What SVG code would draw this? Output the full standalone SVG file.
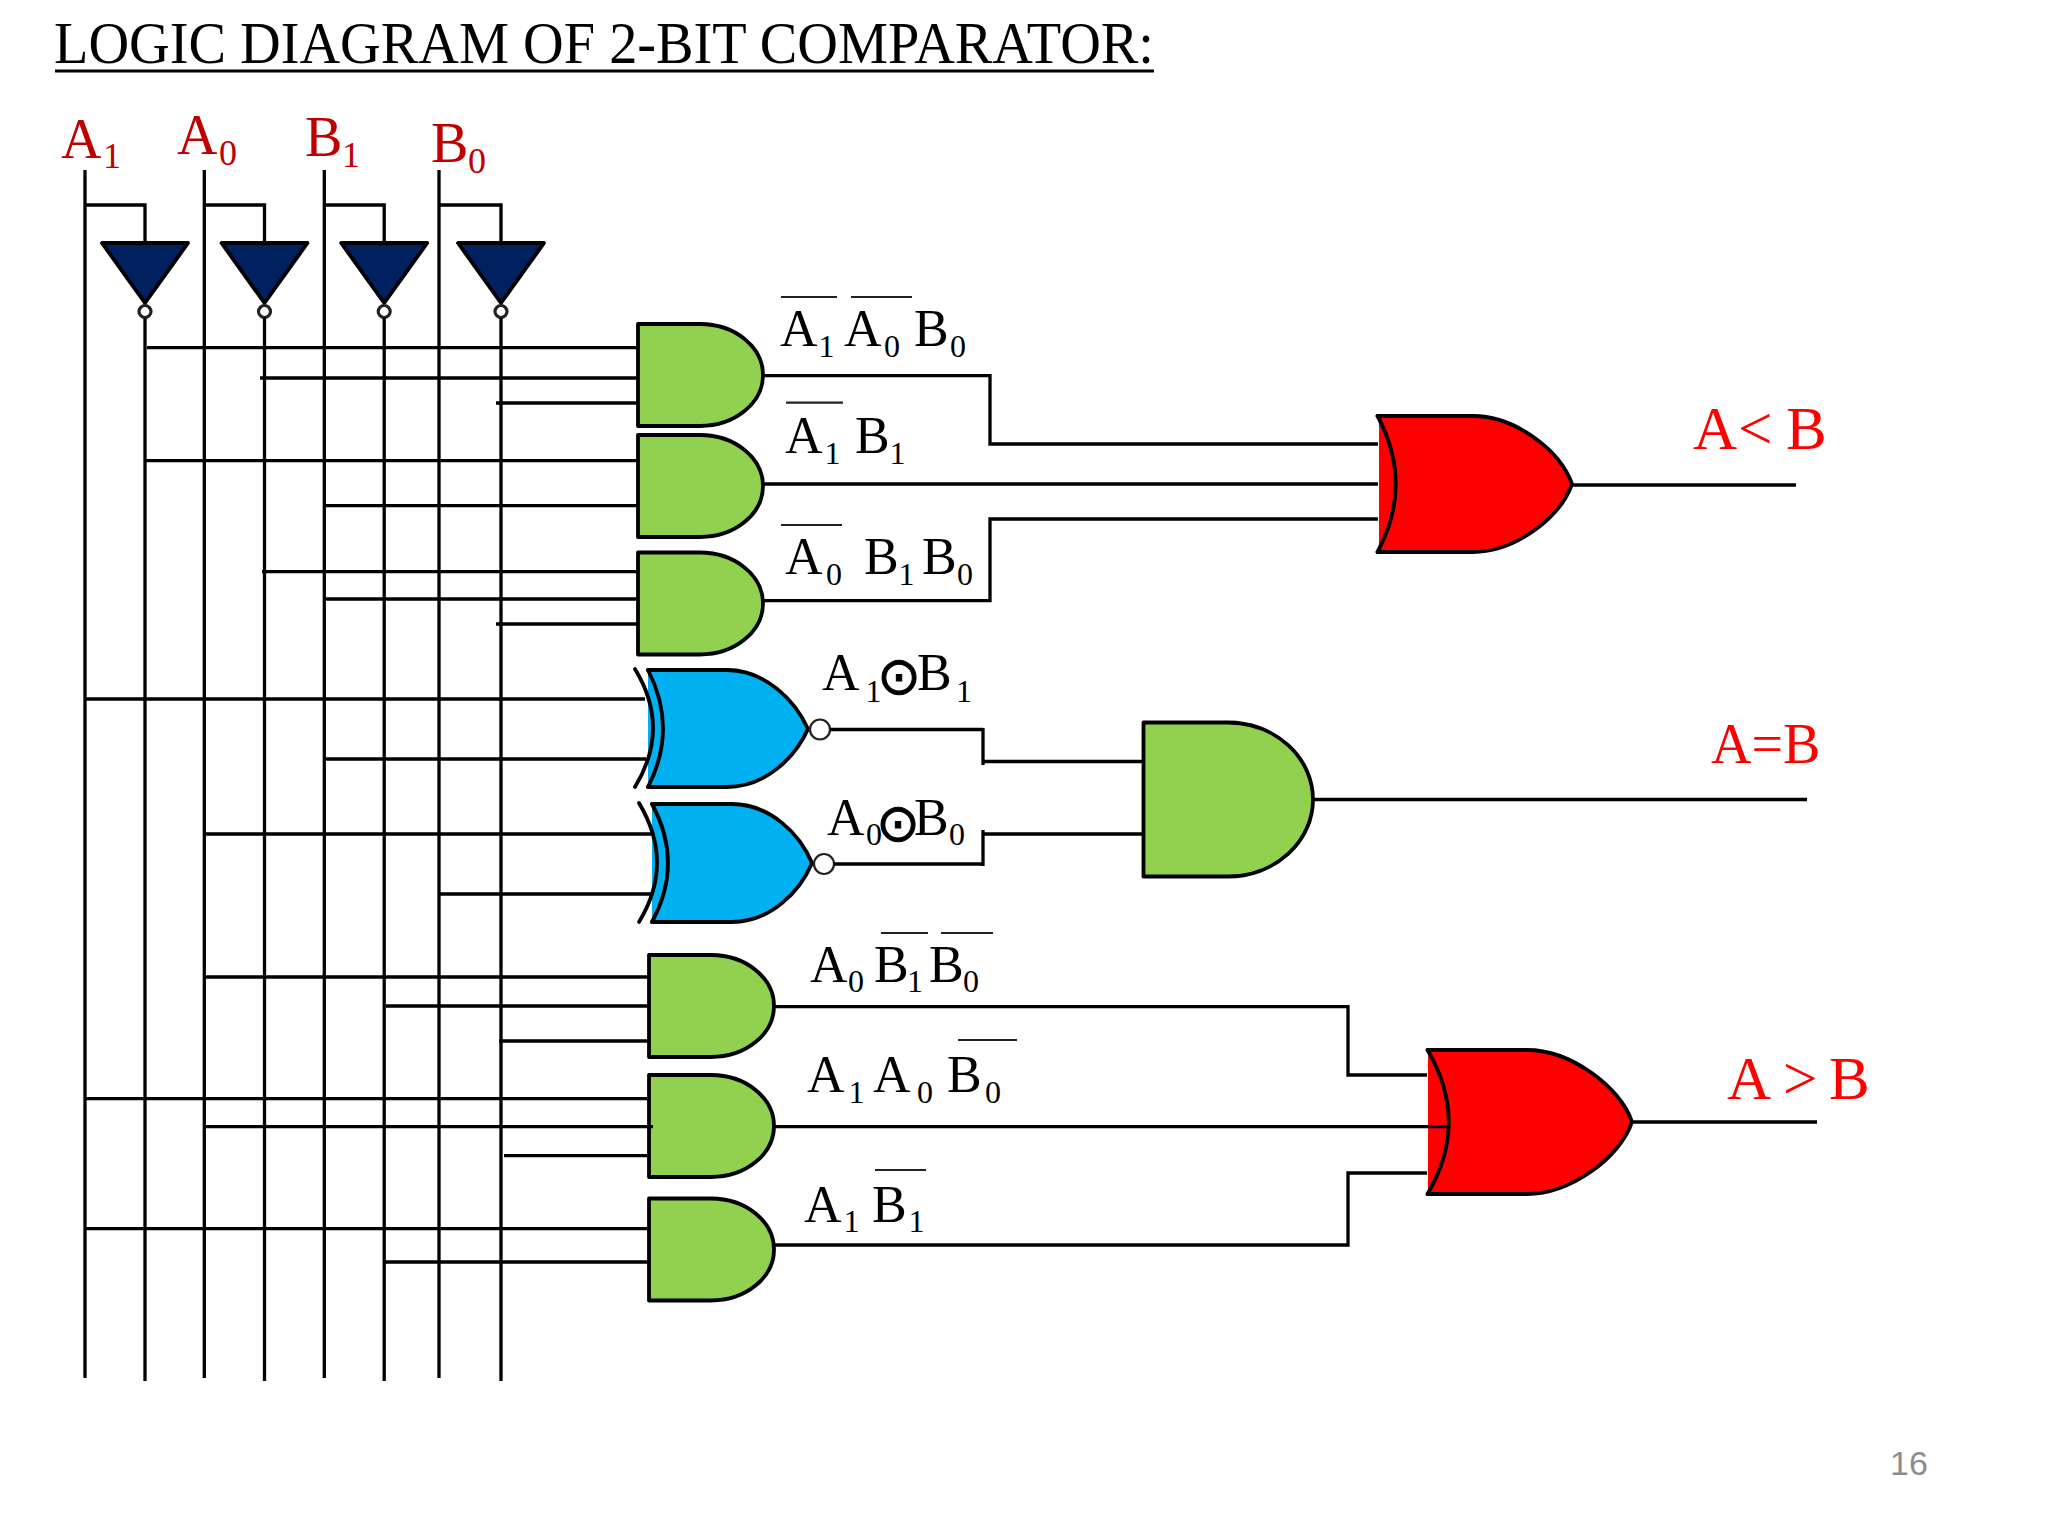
<svg xmlns="http://www.w3.org/2000/svg" width="2048" height="1536" viewBox="0 0 2048 1536">
<defs>
<style>
text{font-family:"Liberation Serif","Times New Roman",serif}
.w{fill:none;stroke:#000;stroke-width:3.300}
.g{stroke:#000;stroke-width:3.800;stroke-linejoin:round}
.and{fill:#92D050}
.inv{fill:#002060;stroke:#000;stroke-width:3.800;stroke-linejoin:round}
.bub{fill:#fff;stroke:#222;stroke-width:3.200}
.bub2{fill:#fff;stroke:#222;stroke-width:2.200}
.nf{fill:none;stroke:#000;stroke-width:3.800;stroke-linecap:round;stroke-linejoin:round}
.l{font-size:52px;fill:#000}
.s{font-size:32px;fill:#000}
.r{fill:#C00000}
.red{fill:#FF0000}
.bar{stroke:#222;stroke-width:2.200}
.odot{font-family:"DejaVu Sans",sans-serif;font-size:52px;fill:#000;stroke:#000;stroke-width:1;text-anchor:middle}
</style>
<path id="andS" d="M0 0H62A63 51 0 0 1 62 102H0Z"/>
</defs>
<rect width="2048" height="1536" fill="#fff"/>

<g id="title">
<text x="54" y="63" font-size="59" textLength="1100" lengthAdjust="spacingAndGlyphs" fill="#000">LOGIC DIAGRAM OF 2-BIT COMPARATOR:</text>
<line x1="55" y1="71" x2="1154" y2="71" stroke="#000" stroke-width="3"/>
</g>

<g id="inputs">
<text x="61" y="158" font-size="56" class="r">A<tspan x="103" y="168" font-size="36">1</tspan></text>
<text x="177" y="154" font-size="56" class="r">A<tspan x="219" y="165" font-size="36">0</tspan></text>
<text x="305" y="156" font-size="56" class="r">B<tspan x="342" y="167" font-size="36">1</tspan></text>
<text x="431" y="162" font-size="56" class="r">B<tspan x="468" y="173" font-size="36">0</tspan></text>
</g>

<g id="inv-a1"><path class="inv" transform="translate(145 243)" d="M-43 0H43L0 60Z"/><circle class="bub" cx="145" cy="311.500" r="6"/></g>
<g id="inv-a0"><path class="inv" transform="translate(264.500 243)" d="M-43 0H43L0 60Z"/><circle class="bub" cx="264.500" cy="311.500" r="6"/></g>
<g id="inv-b1"><path class="inv" transform="translate(384.200 243)" d="M-43 0H43L0 60Z"/><circle class="bub" cx="384.200" cy="311.500" r="6"/></g>
<g id="inv-b0"><path class="inv" transform="translate(501 243)" d="M-43 0H43L0 60Z"/><circle class="bub" cx="501" cy="311.500" r="6"/></g>

<g id="and1"><use href="#andS" class="and g" x="638" y="324"/></g>
<g id="and2"><use href="#andS" class="and g" x="638" y="435"/></g>
<g id="and3"><use href="#andS" class="and g" x="638" y="552.500"/></g>
<g id="and4"><use href="#andS" class="and g" x="649" y="955"/></g>
<g id="and5"><use href="#andS" class="and g" x="649" y="1075"/></g>
<g id="and6"><use href="#andS" class="and g" x="649" y="1198.500"/></g>
<g id="and7"><path class="and g" d="M1143.500 722.500H1228A85 77 0 0 1 1228 876.500H1143.500Z"/></g>

<g id="xnor1">
<path fill="#00B0F0" d="M648 670H727C765 670 795 700 808 729C795 758 765 787 727 787H648Z"/>
<path class="nf" d="M648 670H727C765 670 795 700 808 729C795 758 765 787 727 787H648"/>
<path class="nf" d="M648 670Q678 728.500 648 787"/>
<path class="nf" d="M635 669Q671 728 635 787"/>
<circle class="bub2" cx="820" cy="729.500" r="10"/>
</g>
<g id="xnor2">
<path fill="#00B0F0" d="M652 804H732C770 804 800 834 812 863C800 892 770 922 732 922H652Z"/>
<path class="nf" d="M652 804H732C770 804 800 834 812 863C800 892 770 922 732 922H652"/>
<path class="nf" d="M652 804Q684 863 652 922"/>
<path class="nf" d="M639 803Q675 863 639 922"/>
<circle class="bub2" cx="824" cy="864" r="10"/>
</g>
<g id="or1">
<path fill="#FF0000" d="M1379 416H1473C1515 416 1560 450 1572 484C1560 518 1515 552 1473 552H1379Z"/>
<path class="nf" d="M1377.500 416H1473C1515 416 1560 450 1572 484C1560 518 1515 552 1473 552H1377.500"/>
<path class="nf" d="M1377.500 416Q1414 484 1377.500 552"/>
</g>
<g id="or2">
<path fill="#FF0000" d="M1428 1050H1527C1570 1050 1620 1086 1632 1122C1620 1158 1570 1194 1527 1194H1428Z"/>
<path class="nf" d="M1427.500 1050H1527C1570 1050 1620 1086 1632 1122C1620 1158 1570 1194 1527 1194H1427.500"/>
<path class="nf" d="M1427.500 1050Q1470 1122 1427.500 1194"/>
</g>

<g id="connectors" class="w">
<path d="M85 170V1378M204.300 170V1378M324.300 170V1378M439 170V1378"/>
<path d="M145 318V1381M264.500 318V1381M384.200 318V1381M501 318V1381"/>
<path d="M84 205H145V243M204 205H264.500V243M323 205H384.200V243M439 205H501V243"/>
<path d="M147 347.700H638M260 378H638M496 403H638"/>
<path d="M145 460.700H638M324 505.700H638"/>
<path d="M262 571.700H638M324 599H638M496 624H638"/>
<path d="M85 699H645M324 759H646M204 834H652M439 894H652"/>
<path d="M204 977H649M386 1006H649M499 1041H650"/>
<path d="M85 1098.700H649M204 1126.700H653M504 1155.700H649"/>
<path d="M85 1228.700H649M385 1262H649"/>
<path d="M763 375.700H990V444H1378M763 484H1378M763 600.700H990V519H1378M1572 485H1796"/>
<path d="M830 729.500H983M983 728V765M983 761.500H1143"/>
<path d="M834 864H983M983 830V866M983 834H1143"/>
<path d="M1313 799.500H1807"/>
<path d="M774 1006.700H1348V1075H1427M774 1126.700H1447M774 1245H1348V1173H1427M1632 1122H1817"/>
</g>

<g id="labels">
<line class="bar" x1="781" y1="297" x2="837" y2="297"/><line class="bar" x1="851" y1="297" x2="912" y2="297"/>
<text class="l" x="780" y="346">A<tspan class="s" x="818.500" y="357">1</tspan><tspan x="844" y="346">A</tspan><tspan class="s" x="884" y="357">0</tspan><tspan x="914" y="346">B</tspan><tspan class="s" x="950" y="357">0</tspan></text>
<line class="bar" x1="786" y1="402.700" x2="843" y2="402.700"/>
<text class="l" x="785" y="452.700">A<tspan class="s" x="824.500" y="464">1</tspan><tspan x="855" y="452.700">B</tspan><tspan class="s" x="889.500" y="464">1</tspan></text>
<line class="bar" x1="781" y1="525" x2="842" y2="525"/>
<text class="l" x="785" y="574">A<tspan class="s" x="826" y="585">0</tspan><tspan x="864" y="574">B</tspan><tspan class="s" x="898.500" y="585">1</tspan><tspan x="922" y="574">B</tspan><tspan class="s" x="957" y="585">0</tspan></text>
<text class="l" x="822" y="690">A<tspan class="s" x="865.500" y="702">1</tspan><tspan x="917" y="690">B</tspan><tspan class="s" x="956" y="702">1</tspan></text>
<text class="odot" x="899" y="694">⊙</text>
<text class="l" x="827" y="835" font-size="46">A<tspan class="s" x="866" y="845">0</tspan><tspan x="914" y="835">B</tspan><tspan class="s" x="949" y="845">0</tspan></text>
<text class="odot" x="898" y="841">⊙</text>
<line class="bar" x1="881" y1="933" x2="928" y2="933"/><line class="bar" x1="941" y1="933" x2="993" y2="933"/>
<text class="l" x="810" y="982">A<tspan class="s" x="848" y="992">0</tspan><tspan x="874" y="982">B</tspan><tspan class="s" x="907" y="992">1</tspan><tspan x="929" y="982">B</tspan><tspan class="s" x="963" y="992">0</tspan></text>
<line class="bar" x1="958" y1="1040" x2="1017" y2="1040"/>
<text class="l" x="807" y="1092">A<tspan class="s" x="848.500" y="1103">1</tspan><tspan x="873" y="1092">A</tspan><tspan class="s" x="917" y="1103">0</tspan><tspan x="947" y="1092">B</tspan><tspan class="s" x="985" y="1103">0</tspan></text>
<line class="bar" x1="875" y1="1170" x2="926" y2="1170"/>
<text class="l" x="804" y="1222">A<tspan class="s" x="843.500" y="1232">1</tspan><tspan x="872" y="1222">B</tspan><tspan class="s" x="908.500" y="1232">1</tspan></text>
</g>

<g id="outputs">
<text class="red" font-size="61" y="449"><tspan x="1693">A</tspan><tspan x="1738">&lt;</tspan><tspan x="1786">B</tspan></text>
<text class="red" font-size="56" x="1711" y="763">A=B</text>
<text class="red" font-size="61" y="1098.500"><tspan x="1727">A</tspan><tspan x="1783">&gt;</tspan><tspan x="1829">B</tspan></text>
</g>

<text id="page" x="1890" y="1475" font-size="34" fill="#8c8c8c" style="font-family:'Liberation Sans',Arial,sans-serif">16</text>
</svg>
